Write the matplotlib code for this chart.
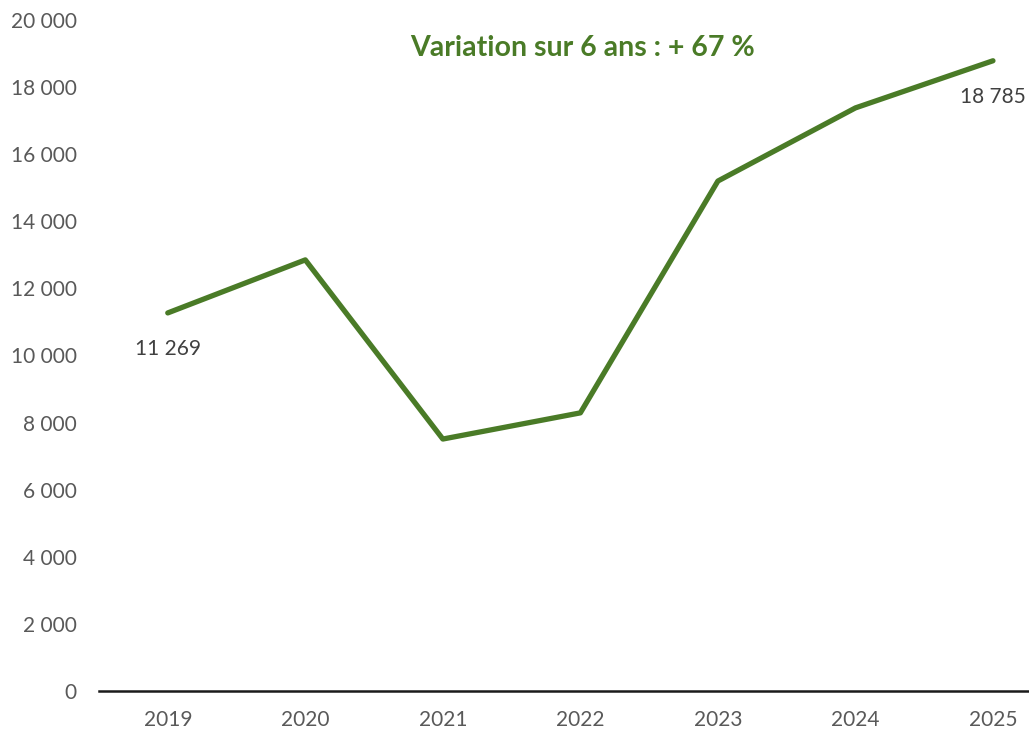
import matplotlib
matplotlib.use("Agg")
import matplotlib.pyplot as plt
from matplotlib.ticker import FuncFormatter

years = ["2019", "2020", "2021", "2022", "2023", "2024", "2025"]
values = [11269, 12850, 7510, 8290, 15200, 17380, 18785]
yticks = [0, 2000, 4000, 6000, 8000, 10000, 12000, 14000, 16000, 18000, 20000]
title = "Variation sur 6 ans : + 67 %"

green = "#4a7b27"
grey = "#595959"
plt.rcParams['font.family'] = ['Lato', 'DejaVu Sans']

fig = plt.figure(figsize=(10.29, 7.35), dpi=100)
ax = fig.add_axes([99/1029, 1-691/735, 1-99/1029, (691-20)/735])
x = list(range(len(years)))
ax.plot(x, values, color=green, lw=3.8, solid_capstyle='round', solid_joinstyle='round')
ax.set_xlim(-0.5, 6.262)
ax.set_ylim(0, 20000)
ax.set_yticks(yticks)
ax.yaxis.set_major_formatter(FuncFormatter(lambda v, p: f"{int(v):,}".replace(",", " ")))
ax.set_xticks(x)
ax.set_xticklabels(years)
ax.tick_params(axis='both', length=0, labelsize=15, colors=grey)
ax.tick_params(axis='y', pad=16)
ax.tick_params(axis='x', pad=14)
for s in ['top', 'right', 'left']:
    ax.spines[s].set_visible(False)
ax.spines['bottom'].set_color('#1a1a1a')
ax.spines['bottom'].set_linewidth(1.8)

def fmt(v):
    return f"{v:,}".replace(",", " ")

ax.annotate(fmt(values[0]), (x[0], values[0]), xytext=(0, -26), textcoords='offset points',
            ha='center', va='center', fontsize=15, color='#404040')
ax.annotate(fmt(values[-1]), (x[-1], values[-1]), xytext=(0, -26), textcoords='offset points',
            ha='center', va='center', fontsize=15, color='#404040')

fig.text(583/1029, 1-48/735, title, ha='center', va='center', fontsize=20.5,
         fontweight='bold', color=green)

fig.savefig("out.png", dpi=100)
